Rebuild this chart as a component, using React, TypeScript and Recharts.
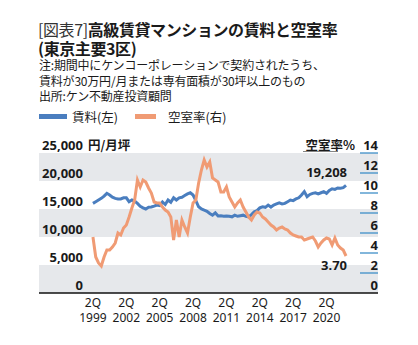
import React from "react";
import { LineChart, Line, XAxis, YAxis, ReferenceArea } from "recharts";

// Quarterly data, 2Q1999 .. 1Q2022
const rent = [
  16000, 16300, 16600, 16900, 17300, 17800, 17500, 17100, 16900, 16800,
  16800, 17000, 17000, 16300, 16600, 16400, 16000, 15500, 15200, 15000,
  15300, 15350, 15500, 15700, 15600, 16250, 15800, 16600, 16200, 17000,
  16600, 17000, 17100, 17400, 17700, 17900, 17500, 16500, 15400, 15000,
  14800, 14600, 14200, 13900, 14300, 13750, 13800, 13700, 13750, 13700,
  13600, 13900, 13700, 13800, 13900, 13700, 13600, 14000, 14500, 14700,
  15200, 15400, 15300, 15700, 15350, 15700, 15900, 16100, 15900, 16000,
  16300, 16600, 16500, 16800, 17000, 17500, 18100, 17200, 17600, 17800,
  17900, 17700, 17900, 18100, 17800, 18300, 18600, 18500, 18750, 18700,
  18800, 19208,
];
const vacancy = [
  5.6, 3.6, 3.0, 2.7, 3.6, 4.3, 4.3, 4.6, 5.0, 6.0,
  5.8, 6.5, 6.8, 7.6, 8.5, 9.3, 11.3, 10.6, 11.3, 11.1,
  10.5, 10.0, 9.1, 9.0, 9.0, 8.6, 8.3, 8.1, 7.6, 5.3,
  7.3, 5.6, 7.3, 6.6, 6.0, 7.6, 9.0, 9.3, 11.0, 12.3,
  13.3, 12.6, 13.1, 11.5, 11.3, 11.1, 10.1, 10.1, 10.6, 9.6,
  9.1, 8.6, 9.0, 9.3, 8.6, 8.1, 7.6, 7.3, 7.8, 8.1,
  8.0, 7.6, 7.4, 7.1, 6.8, 6.6, 6.3, 6.5, 6.6, 6.4,
  6.3, 6.0, 5.8, 5.7, 5.6, 5.6, 5.3, 5.4, 5.5, 5.6,
  5.2, 4.6, 5.0, 5.3, 5.5, 5.4, 4.8, 5.5, 4.8, 4.5,
  4.3, 3.7,
];
const xTickIndex = [0, 12, 24, 36, 48, 60, 72, 84];
const xTickYears = ["1999", "2002", "2005", "2008", "2011", "2014", "2017", "2020"];
const leftTicks = [0, 5000, 10000, 15000, 20000, 25000];
const rightTicks = [0, 2, 4, 6, 8, 10, 12, 14];
const bands = [
  [0, 5000],
  [10000, 15000],
  [20000, 25000],
];
const lastRentLabel = "19,208";
const lastVacLabel = "3.70";

const data = rent.map((r, i) => ({ i, rent: r, vac: vacancy[i] }));

const BLUE = "#4a7ebf";
const ORANGE = "#f09b74";
const BAND = "#e6e8eb";
const TEXT = "#1a1a1a";
const NUMFONT = "'Noto Sans', 'Open Sans', sans-serif";
const JPFONT = "'Noto Sans CJK JP', sans-serif";

const PLOT_BOTTOM = 293;

const LeftTick = (props: any) => {
  const { y, payload } = props;
  const v = payload.value as number;
  return (
    <g>
      <text x={83} y={y - 3} textAnchor="end" fontFamily={NUMFONT} fontWeight={700} fontSize={13} fill={TEXT}>
        {v.toLocaleString("en-US")}
      </text>
      {v === 25000 && (
        <text x={88} y={y - 3} fontFamily={JPFONT} fontWeight={700} fontSize={12.5} fill={TEXT}>
          円/月坪
        </text>
      )}
    </g>
  );
};

const RightTick = (props: any) => {
  const { y, payload } = props;
  const v = payload.value as number;
  return (
    <g>
      <text x={378} y={y - 3} textAnchor="end" fontFamily={NUMFONT} fontWeight={700} fontSize={13} fill={TEXT}>
        {v}
      </text>
      {v !== 0 && <line x1={360} x2={378} y1={y} y2={y} stroke="#3f8fc8" strokeWidth={1.3} />}
      {v === 14 && (
        <g>
          <text x={355} y={y - 3} textAnchor="end" fontFamily={JPFONT} fontWeight={700} fontSize={12.5} fill={TEXT}>
            空室率%
          </text>
          <line x1={303} x2={338} y1={y - 1.5} y2={y - 1.5} stroke="#666" strokeWidth={0.8} />
        </g>
      )}
    </g>
  );
};

const XTick = (props: any) => {
  const { x, payload } = props;
  const k = xTickIndex.indexOf(payload.value);
  return (
    <text x={x} y={PLOT_BOTTOM + 14} textAnchor="middle" fontFamily={NUMFONT} fontSize={12} fill={TEXT}>
      <tspan x={x} dy={0}>2Q</tspan>
      <tspan x={x} dy={15}>{xTickYears[k]}</tspan>
    </text>
  );
};

const rentLabel = (props: any) => {
  const { x, y, index } = props;
  if (index !== rent.length - 1) return <g />;
  return (
    <text x={x + 1} y={y - 8} textAnchor="end" fontFamily={NUMFONT} fontWeight={700} fontSize={13} fill={TEXT}>
      {lastRentLabel}
    </text>
  );
};

const vacLabel = (props: any) => {
  const { x, y, index } = props;
  if (index !== vacancy.length - 1) return <g />;
  return (
    <text x={x + 1} y={y + 14} textAnchor="end" fontFamily={NUMFONT} fontWeight={700} fontSize={13} fill={TEXT}>
      {lastVacLabel}
    </text>
  );
};

export default function App() {
  return (
    <div style={{ position: "absolute", left: 0, top: 0, width: 418, height: 345, background: "#fff", fontFamily: JPFONT, color: TEXT }}>
      <div style={{ position: "absolute", left: 38, top: 20, fontSize: 16, lineHeight: "18px", whiteSpace: "nowrap", letterSpacing: -0.4 }}>
        <span style={{ fontWeight: 400, color: "#333" }}>[図表7]</span>
        <span style={{ fontWeight: 700 }}>高級賃貸マンションの賃料と空室率</span>
      </div>
      <div style={{ position: "absolute", left: 38, top: 39, fontSize: 16, lineHeight: "18px", fontWeight: 700, whiteSpace: "nowrap", letterSpacing: -0.4 }}>
        (東京主要3区)
      </div>
      <div style={{ position: "absolute", left: 39, top: 57, fontSize: 12, lineHeight: "15.5px", whiteSpace: "nowrap", letterSpacing: -0.2 }}>
        <div>注:期間中にケンコーポレーションで契約されたうち、</div>
        <div>賃料が30万円/月または専有面積が30坪以上のもの</div>
        <div>出所:ケン不動産投資顧問</div>
      </div>
      <div style={{ position: "absolute", left: 39, top: 114, width: 28, height: 5, background: BLUE }} />
      <div style={{ position: "absolute", left: 72, top: 109, fontSize: 12.5, lineHeight: "16px", whiteSpace: "nowrap" }}>賃料(左)</div>
      <div style={{ position: "absolute", left: 135, top: 114, width: 21, height: 5, background: ORANGE }} />
      <div style={{ position: "absolute", left: 168, top: 109, fontSize: 12.5, lineHeight: "16px", whiteSpace: "nowrap" }}>空室率(右)</div>
      <div style={{ position: "absolute", left: 0, top: 0 }}>
        <LineChart width={418} height={345} data={data} margin={{ top: 153, right: 0, bottom: 0, left: 0 }}>
          {bands.map(([a, b]) => (
            <ReferenceArea key={a} yAxisId="l" y1={a} y2={b} fill={BAND} fillOpacity={1} stroke="none" ifOverflow="hidden" />
          ))}
          <XAxis
            dataKey="i"
            type="number"
            domain={[-19.4, 102.5]}
            allowDataOverflow
            ticks={xTickIndex}
            tick={<XTick />}
            tickLine={false}
            axisLine={{ stroke: "#111", strokeWidth: 1.5 }}
            height={52}
            interval={0}
          />
          <YAxis yAxisId="l" orientation="left" width={39} domain={[0, 25000]} ticks={leftTicks} tick={<LeftTick />} tickLine={false} axisLine={false} interval={0} />
          <YAxis yAxisId="r" orientation="right" width={40} domain={[0, 14]} ticks={rightTicks} tick={<RightTick />} tickLine={false} axisLine={false} interval={0} />
          <Line yAxisId="l" dataKey="rent" stroke={BLUE} strokeWidth={3} dot={false} isAnimationActive={false} label={rentLabel} />
          <Line yAxisId="r" dataKey="vac" stroke={ORANGE} strokeWidth={3} dot={false} isAnimationActive={false} label={vacLabel} />
        </LineChart>
      </div>
    </div>
  );
}
